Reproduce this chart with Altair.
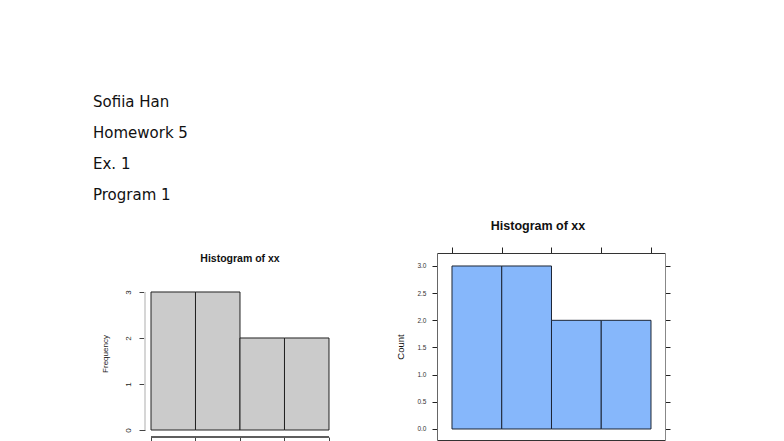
import altair as alt
import pandas as pd

# ---- data ----
header_lines = ["Sofiia Han", "Homework 5", "Ex. 1", "Program 1"]
bin_start = [0, 2, 4, 6]
bin_end = [2, 4, 6, 8]
counts = [3, 3, 2, 2]
x_ticks = [0, 2, 4, 6, 8]
left_y_ticks = [0, 1, 2, 3]
right_y_ticks = [0, 0.5, 1.0, 1.5, 2.0, 2.5, 3.0]

hist = pd.DataFrame({"start": bin_start, "end": bin_end, "count": counts})
header_df = pd.DataFrame({"order": list(range(len(header_lines))), "line": header_lines})

FONT = "Liberation Sans"

# ---- header text ----
header = alt.Chart(header_df).mark_text(
    align="left", baseline="middle", font="DejaVu Sans", fontSize=15, color="#111111"
).encode(
    x=alt.value(0),
    y=alt.Y("order:O", axis=None, scale=alt.Scale(paddingInner=0, paddingOuter=0)),
    text="line:N",
).properties(width=200, height=124)

# ---- left histogram (base R style) ----
lx = alt.Scale(domain=[-2.607, 8.315], nice=False, zero=False)
ly = alt.Scale(domain=[-0.152, 3.478], nice=False, zero=False)

left_bars = alt.Chart(hist).mark_rect(
    fill="#cbcbcb", stroke="#222222", strokeWidth=1
).encode(
    x=alt.X("start:Q", scale=lx, axis=alt.Axis(
        orient="bottom", domain=False, values=x_ticks, tickSize=6, tickColor="#444444",
        labels=False, grid=False, title=None)),
    x2="end:Q",
    y=alt.Y("count:Q", scale=ly, axis=alt.Axis(
        orient="left", offset=-52, domain=False, values=left_y_ticks, tickSize=6,
        tickColor="#444444", labelAngle=270, labelAlign="center", labelBaseline="bottom",
        labelPadding=7, labelFont=FONT, labelFontSize=8, labelColor="#222222", grid=False,
        title="Frequency", titleFont=FONT, titleFontSize=8, titleFontWeight="normal",
        titlePadding=15, titleColor="#222222")),
    y2=alt.datum(0),
)

left_yline = alt.Chart(hist).mark_rule(color="#d4d4d4").encode(
    x=alt.datum(-0.27, scale=lx), y=alt.datum(0, scale=ly), y2=alt.datum(3)
)
left_xline = alt.Chart(hist).mark_rule(color="#555555").encode(
    y=alt.datum(-0.152, scale=ly), x=alt.datum(0, scale=lx), x2=alt.datum(8)
)

left_hist = alt.layer(left_bars, left_yline, left_xline).properties(
    width=243, height=167,
    title=alt.TitleParams("Histogram of xx", font=FONT, fontSize=10.5, fontWeight="bold",
                          anchor="middle", frame="group", dx=25.5, offset=-4,
                          baseline="bottom", color="#111111"),
)

left_col = alt.vconcat(header, left_hist, spacing=43)

# ---- right histogram (lattice style) ----
rx = alt.Scale(domain=[-0.603, 8.563], nice=False, zero=False)
ry = alt.Scale(domain=[-0.2025, 3.239], nice=False, zero=False)

right_bars = alt.Chart(hist).mark_rect(
    fill="#86b7fb", stroke="#1c2535", strokeWidth=1
).encode(
    x=alt.X("start:Q", scale=rx, axis=alt.Axis(
        orient="bottom", domain=True, domainColor="#333333", values=x_ticks, tickSize=5,
        tickColor="#222222", labels=False, grid=False, title=None)),
    x2="end:Q",
    y=alt.Y("count:Q", scale=ry, axis=alt.Axis(
        orient="left", domain=True, domainColor="#666666", values=right_y_ticks, format=".1f",
        tickSize=5, tickColor="#222222", labelPadding=6, labelFont=FONT, labelFontSize=6.5,
        labelColor="#333333", grid=False, title="Count", titleFont=FONT, titleFontSize=9.5,
        titleFontWeight="normal", titlePadding=11, titleColor="#111111")),
    y2=alt.datum(0),
)

right_helper = alt.Chart(hist).mark_rule(opacity=0).encode(
    x=alt.X("start:Q", scale=rx, axis=alt.Axis(
        orient="top", domain=True, domainColor="#333333", values=x_ticks, tickSize=6,
        tickColor="#222222", labels=False, grid=False, title=None)),
    y=alt.Y("count:Q", scale=ry, axis=alt.Axis(
        orient="right", domain=True, domainColor="#888888", values=right_y_ticks, tickSize=5,
        tickColor="#222222", labels=False, grid=False, title=None)),
)

right_hist = alt.layer(right_bars, right_helper).resolve_axis(
    x="independent", y="independent"
).properties(
    width=228, height=187,
    title=alt.TitleParams("Histogram of xx", font=FONT, fontSize=12.5, fontWeight="bold",
                          anchor="middle", dx=-13, offset=1, baseline="bottom",
                          color="#111111"),
)

blank = alt.Chart(hist).mark_rect(opacity=0).encode(
    x=alt.value(0), x2=alt.value(1), y=alt.value(0), y2=alt.value(1)
).properties(width=1, height=100)

right_col = alt.vconcat(blank, right_hist, spacing=34)

chart = alt.hconcat(left_col, right_col, spacing=59).properties(
    padding={"left": 85, "top": 78, "right": 0, "bottom": 0},
    background="white",
).configure_view(strokeWidth=0, stroke="transparent")

chart.save("out.html", embed_options={"renderer": "svg", "actions": False})
